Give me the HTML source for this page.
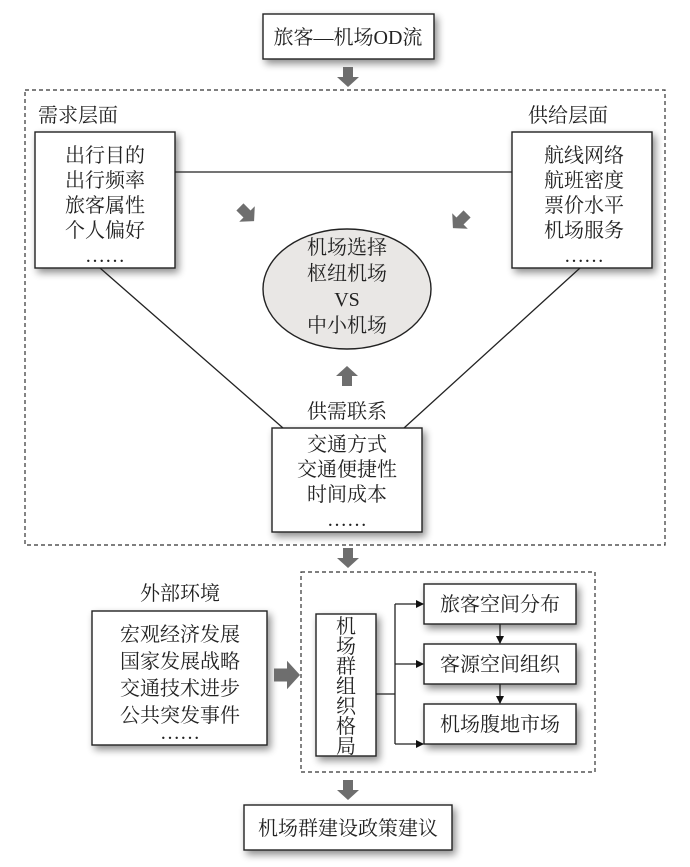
<!DOCTYPE html>
<html><head><meta charset="utf-8"><style>
html,body{margin:0;padding:0;background:#fff;}
svg{display:block;}
text{font-family:"Liberation Serif","Noto Serif CJK SC","Noto Sans CJK SC",serif;font-size:20px;fill:#222;text-anchor:middle;}
</style></head><body>
<svg width="690" height="867" viewBox="0 0 690 867" xmlns="http://www.w3.org/2000/svg">
<defs>
<filter id="sh" x="-20%" y="-20%" width="150%" height="150%">
<feGaussianBlur in="SourceAlpha" stdDeviation="4"/><feOffset dx="3" dy="4"/>
<feComponentTransfer><feFuncA type="linear" slope="0.45"/></feComponentTransfer>
<feMerge><feMergeNode/><feMergeNode in="SourceGraphic"/></feMerge></filter>
<g id="arr"><polygon points="-5,-10 5,-10 5,0 11,0 0,10 -11,0 -5,0" fill="#6e6e6e"/></g>
<marker id="m" markerWidth="8" markerHeight="8" refX="7" refY="4" orient="auto" markerUnits="userSpaceOnUse"><path d="M0,0 L8,4 L0,8 Z" fill="#111"/></marker>
</defs>
<g stroke="#222" stroke-width="1.4" fill="#fff">
<rect x="263" y="14" width="171" height="45" filter="url(#sh)"/>
<rect x="35" y="132" width="140" height="136" filter="url(#sh)"/>
<rect x="512" y="132" width="140" height="136" filter="url(#sh)"/>
<rect x="272" y="428" width="150" height="104" filter="url(#sh)"/>
<rect x="92" y="611" width="175" height="134" filter="url(#sh)"/>
<rect x="316" y="614" width="60" height="142" filter="url(#sh)"/>
<rect x="424" y="584" width="152" height="40" filter="url(#sh)"/>
<rect x="424" y="644" width="152" height="40" filter="url(#sh)"/>
<rect x="424" y="704" width="152" height="40" filter="url(#sh)"/>
<rect x="244" y="805" width="208" height="45" filter="url(#sh)"/>
<ellipse cx="347" cy="289" rx="84" ry="60" fill="#e9e7e5"/>
</g>
<g fill="none" stroke="#333" stroke-width="1.2" stroke-dasharray="4,3">
<rect x="25" y="90" width="640" height="455"/>
<rect x="301" y="572" width="294" height="200"/>
</g>
<g stroke="#222" stroke-width="1.3" fill="none">
<line x1="175" y1="172" x2="512" y2="172"/>
<line x1="100" y1="268" x2="283" y2="428"/>
<line x1="580" y1="268" x2="404" y2="428"/>
<polyline points="376,694 395,694"/>
<line x1="395" y1="604" x2="395" y2="744"/>
<line x1="395" y1="604" x2="423" y2="604" marker-end="url(#m)"/>
<line x1="395" y1="664" x2="423" y2="664" marker-end="url(#m)"/>
<line x1="395" y1="744" x2="423" y2="744" marker-end="url(#m)"/>
<line x1="500" y1="624" x2="500" y2="643" marker-end="url(#m)"/>
<line x1="500" y1="684" x2="500" y2="703" marker-end="url(#m)"/>
</g>
<use href="#arr" transform="translate(348,77)"/>
<use href="#arr" transform="translate(348,558)"/>
<use href="#arr" transform="translate(348,790)"/>
<use href="#arr" transform="translate(347,376) rotate(180)"/>
<use href="#arr" transform="translate(287,675) rotate(-90) scale(1.3)"/>
<use href="#arr" transform="translate(247,214) rotate(-45)"/>
<use href="#arr" transform="translate(460,221) rotate(45)"/>
<text x="348" y="44">旅客—机场OD流</text>
<text x="78" y="122">需求层面</text>
<text x="568" y="122">供给层面</text>
<text x="105" y="162">出行目的</text>
<text x="105" y="187">出行频率</text>
<text x="105" y="212">旅客属性</text>
<text x="105" y="237">个人偏好</text>
<text x="105" y="262">……</text>
<text x="584" y="162">航线网络</text>
<text x="584" y="187">航班密度</text>
<text x="584" y="212">票价水平</text>
<text x="584" y="237">机场服务</text>
<text x="584" y="262">……</text>
<text x="347" y="254">机场选择</text>
<text x="347" y="280">枢纽机场</text>
<text x="347" y="306">VS</text>
<text x="347" y="332">中小机场</text>
<text x="347" y="418">供需联系</text>
<text x="347" y="451">交通方式</text>
<text x="347" y="476">交通便捷性</text>
<text x="347" y="501">时间成本</text>
<text x="347" y="526">……</text>
<text x="180" y="600">外部环境</text>
<text x="180" y="641">宏观经济发展</text>
<text x="180" y="668">国家发展战略</text>
<text x="180" y="695">交通技术进步</text>
<text x="180" y="722">公共突发事件</text>
<text x="180" y="739">……</text>
<text x="346" y="633">机</text>
<text x="346" y="653">场</text>
<text x="346" y="673">群</text>
<text x="346" y="693">组</text>
<text x="346" y="713">织</text>
<text x="346" y="733">格</text>
<text x="346" y="753">局</text>
<text x="500" y="611">旅客空间分布</text>
<text x="500" y="671">客源空间组织</text>
<text x="500" y="731">机场腹地市场</text>
<text x="348" y="835">机场群建设政策建议</text>
</svg>
</body></html>
